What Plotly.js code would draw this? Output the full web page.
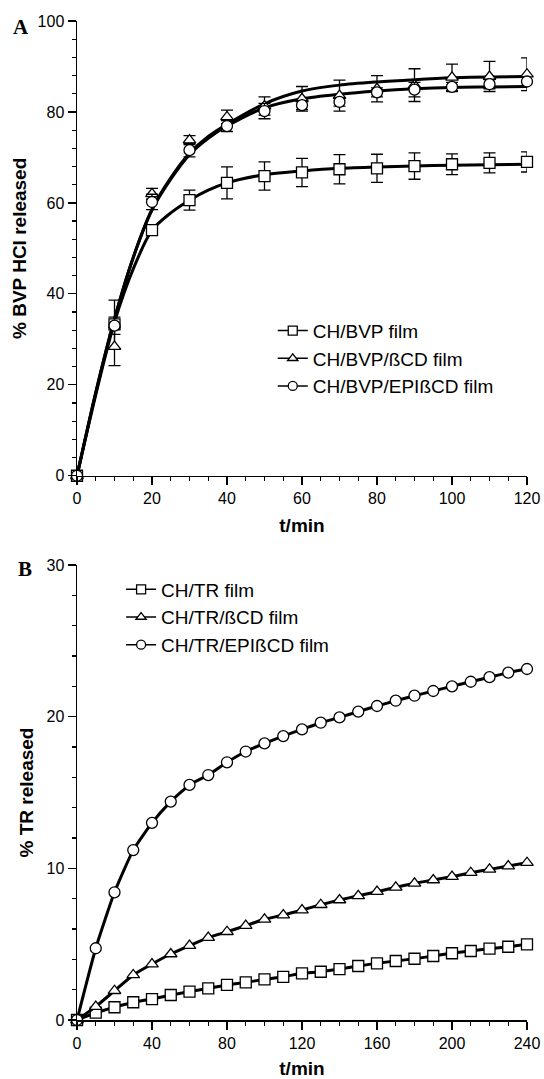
<!DOCTYPE html>
<html>
<head>
<meta charset="utf-8">
<script src="https://cdn.plot.ly/plotly-3.0.1.min.js"></script>
<style>html,body{margin:0;padding:0;background:#fff;}#chart{width:544px;height:1079px;}</style>
</head>
<body>
<div id="chart"></div>
<script>
// ---- Panel A: BVP HCl release (mean ± error) ----
var tA = [0,10,20,30,40,50,60,70,80,90,100,110,120];
var bvpFilm = [0,33.3,54.0,60.6,64.4,65.9,66.7,67.4,67.6,68.1,68.5,68.8,69.0];
var bvpFilmErr = [0,5.3,1.0,2.2,3.5,3.1,3.1,3.2,3.1,2.9,2.3,2.2,2.2];
var bvpBCD = [0,28.4,62.0,73.8,78.9,81.3,82.9,83.6,85.1,85.9,87.6,87.8,88.3];
var bvpBCDErr = [0,4.2,1.2,1.0,1.5,2.0,2.7,3.4,2.9,3.6,2.9,3.3,3.6];
var bvpEPI = [0,33.0,60.2,71.6,76.9,80.2,81.5,82.2,84.3,84.9,85.5,86.1,86.7];
var bvpEPIErr = [0,1.9,1.7,1.5,1.2,1.7,1.0,0.9,1.0,1.6,1.0,1.0,1.0];
// fitted curves
var tFit = [0,5,10,15,20,25,30,35,40,50,60,70,80,90,100,110,120];
var fitFilm = [0,17.8,33.8,45.5,54.0,57.8,60.6,62.8,64.4,66.2,67.0,67.6,67.9,68.1,68.3,68.4,68.5];
var fitBCD = [0,18.3,34.5,48.0,58.6,65.5,70.9,74.6,77.3,81.8,84.6,85.9,86.6,87.1,87.5,87.7,87.8];
var fitEPI = [0,18.3,34.5,48.0,58.4,65.2,70.6,74.2,76.9,80.9,82.9,83.9,84.6,85.1,85.4,85.5,85.6];
var namesA = ['CH/BVP film','CH/BVP/\u00DFCD film','CH/BVP/EPI\u00DFCD film'];

// ---- Panel B: TR release ----
var tB = [0,10,20,30,40,50,60,70,80,90,100,110,120,130,140,150,160,170,180,190,200,210,220,230,240];
var trFilm = [0,0.48,0.84,1.17,1.38,1.65,1.87,2.09,2.31,2.48,2.68,2.85,3.08,3.18,3.36,3.56,3.74,3.89,4.04,4.22,4.40,4.55,4.70,4.83,4.99];
var trBCD = [0,0.88,1.93,2.97,3.69,4.35,4.90,5.43,5.82,6.22,6.64,6.92,7.25,7.60,7.91,8.19,8.46,8.75,9.01,9.23,9.45,9.71,9.93,10.15,10.37];
var trEPI = [0,4.73,8.42,11.2,13.0,14.4,15.5,16.15,16.99,17.7,18.24,18.72,19.16,19.6,19.95,20.33,20.7,21.05,21.38,21.69,22.0,22.3,22.6,22.9,23.14];
var namesB = ['CH/TR film','CH/TR/\u00DFCD film','CH/TR/EPI\u00DFCD film'];

var symbols = ['square','triangle-up','circle'];
var FONT = 'Liberation Sans, Arial, sans-serif';

function mk(sym, size){ return {symbol: sym, size: size, color: '#fff', line: {color: '#000', width: 1.3}}; }

var traces = [];
// Panel A fits
[fitFilm, fitBCD, fitEPI].forEach(function(f){
  traces.push({x: tFit, y: f, mode: 'lines', line: {color: '#000', width: 3, shape: 'spline', smoothing: 0.8},
    showlegend: false, hoverinfo: 'skip', xaxis: 'x', yaxis: 'y', cliponaxis: false});
});
// Panel A data with error bars
[[bvpFilm,bvpFilmErr],[bvpBCD,bvpBCDErr],[bvpEPI,bvpEPIErr]].forEach(function(d, i){
  traces.push({x: tA, y: d[0], mode: 'markers', marker: mk(symbols[i], 11),
    error_y: {type: 'data', array: d[1], visible: true, color: '#000', thickness: 1.3, width: 6},
    showlegend: false, xaxis: 'x', yaxis: 'y', cliponaxis: false, name: namesA[i]});
});
// Panel A legend entries
namesA.forEach(function(n, i){
  traces.push({x: [null], y: [null], mode: 'lines+markers', name: n, line: {color: '#000', width: 1.5},
    marker: mk(symbols[i], 9), xaxis: 'x', yaxis: 'y', legend: 'legend'});
});
// Panel B
[trFilm, trBCD, trEPI].forEach(function(v, i){
  traces.push({x: tB, y: v, mode: 'lines+markers', name: namesB[i],
    line: {color: '#000', width: 3, shape: 'spline', smoothing: 0.5},
    marker: mk(symbols[i], 11), xaxis: 'x2', yaxis: 'y2', cliponaxis: false, legend: 'legend2', showlegend: false});
});
namesB.forEach(function(n, i){
  traces.push({x: [null], y: [null], mode: 'lines+markers', name: n, line: {color: '#000', width: 1.5},
    marker: mk(symbols[i], 9), xaxis: 'x2', yaxis: 'y2', legend: 'legend2'});
});

function axis(opts){
  var base = {showline: true, linecolor: '#000', linewidth: 1.5, ticks: 'outside', ticklen: 8, tickwidth: 1.2,
    tickcolor: '#000', showgrid: false, zeroline: false, mirror: false, autorange: false,
    tickfont: {family: FONT, size: 16, color: '#000'}};
  for (var k in opts) base[k] = opts[k];
  return base;
}
function minor(d){ return {dtick: d, ticks: 'outside', ticklen: 4, tickwidth: 1.2, tickcolor: '#000', showgrid: false}; }
function ttl(t, s){ return {text: t, font: {family: FONT, size: 19, weight: 'bold', color: '#000'}, standoff: s}; }

var layout = {
  width: 544, height: 1079,
  margin: {l: 77, r: 17, t: 21, b: 59},
  paper_bgcolor: '#fff', plot_bgcolor: '#fff',
  font: {family: FONT, color: '#000'},
  xaxis: axis({domain: [0,1], anchor: 'y', range: [0,120], tickmode: 'linear', tick0: 0, dtick: 20,
    minor: minor(5), title: ttl('t/min', 12)}),
  yaxis: axis({domain: [0.5448,1], anchor: 'x', range: [0,100], tickmode: 'linear', tick0: 0, dtick: 20,
    minor: minor(4), title: ttl('% BVP HCl released', 6)}),
  xaxis2: axis({domain: [0,1], anchor: 'y2', range: [0,240], tickmode: 'linear', tick0: 0, dtick: 40,
    minor: minor(10), title: ttl('t/min', 12)}),
  yaxis2: axis({domain: [0,0.4555], anchor: 'x2', range: [0,30], tickmode: 'linear', tick0: 0, dtick: 10,
    minor: minor(2), title: ttl('% TR released', 8)}),
  legend: {x: 0.435, y: 0.709, xanchor: 'left', yanchor: 'top', bgcolor: 'rgba(0,0,0,0)',
    font: {family: FONT, size: 19, color: '#000'}, borderwidth: 0},
  legend2: {x: 0.098, y: 0.45, xanchor: 'left', yanchor: 'top', bgcolor: 'rgba(0,0,0,0)',
    font: {family: FONT, size: 19, color: '#000'}, borderwidth: 0},
  annotations: [
    {text: 'A', xref: 'paper', yref: 'paper', x: -0.124, y: 0.994, xanchor: 'center', yanchor: 'middle', showarrow: false,
      font: {family: 'Liberation Serif, Times New Roman, serif', size: 21, weight: 'bold', color: '#000'}},
    {text: 'B', xref: 'paper', yref: 'paper', x: -0.116, y: 0.4514, xanchor: 'center', yanchor: 'middle', showarrow: false,
      font: {family: 'Liberation Serif, Times New Roman, serif', size: 21, weight: 'bold', color: '#000'}}
  ]
};

Plotly.newPlot('chart', traces, layout, {displayModeBar: false, staticPlot: true});
</script>
</body>
</html>
